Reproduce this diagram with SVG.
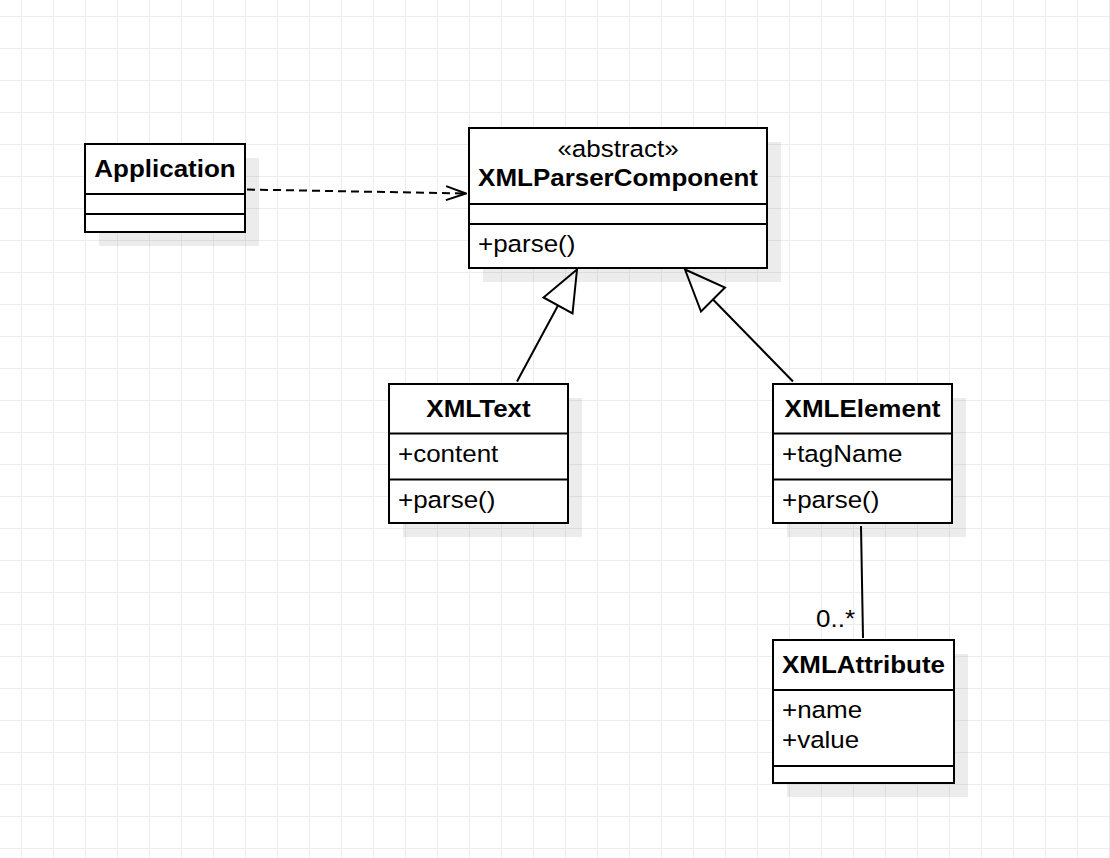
<svg xmlns="http://www.w3.org/2000/svg" width="1110" height="858" viewBox="0 0 1110 858">
  <style>
    .box { fill: #ffffff; stroke: #000000; stroke-width: 2; }
    .sep { stroke: #000000; stroke-width: 2; fill: none; }
    .shadow { fill: #000000; fill-opacity: 0.075; }
    .t { font-family: "Liberation Sans", Arial, sans-serif; font-size: 24.5px; fill: #000000; }
    .b { font-weight: bold; }
    .edge { stroke: #000000; stroke-width: 2; fill: none; }
    .dash { stroke-dasharray: 8 5; }
  </style>
  <defs>
    <pattern id="grid" x="21" y="16" width="32" height="32" patternUnits="userSpaceOnUse">
      <path d="M0.5 0 V32 M0 0.5 H32" stroke="#ededed" stroke-width="1" fill="none"/>
    </pattern>
    <marker id="open" viewBox="0 0 22 16" refX="21" refY="8" markerWidth="22" markerHeight="16" markerUnits="userSpaceOnUse" orient="auto">
      <path d="M1 1 L21 8 L1 15" fill="none" stroke="#000" stroke-width="2"/>
    </marker>
  </defs>
  <rect width="1110" height="858" fill="#ffffff"/>
  <rect width="1110" height="858" fill="url(#grid)"/>

  <g id="connectors">
    <path class="edge dash" d="M247 189.5 L466 193.5" marker-end="url(#open)"/>
    <path class="edge" d="M517 381.5 L558 305.5"/>
    <polygon class="edge" points="577,269.5 543.5,297.5 572.5,313.5" style="fill:#fff"/>
    <path class="edge" d="M793 381.5 L713 299.5"/>
    <polygon class="edge" points="685,269.5 725,287.5 701,311.5" style="fill:#fff"/>
    <path class="edge" d="M861 526 L863 638"/>
    <text class="t" text-anchor="end" transform="translate(855 627) scale(1.06 1)">0..*</text>
  </g>

  <g id="Application">
    <rect class="shadow" x="99" y="158" width="160" height="88"/>
    <rect class="box" x="85" y="144" width="160" height="88"/>
    <path class="sep" d="M85 194 H245 M85 214 H245"/>
    <text class="t b" text-anchor="middle" transform="translate(165 177) scale(1.06 1)">Application</text>
  </g>

  <g id="XMLParserComponent">
    <rect class="shadow" x="483" y="142" width="298" height="140"/>
    <rect class="box" x="469" y="128" width="298" height="140"/>
    <path class="sep" d="M469 204 H767 M469 224 H767"/>
    <text class="t" text-anchor="middle" transform="translate(618 157) scale(1.06 1)">«abstract»</text>
    <text class="t b" text-anchor="middle" transform="translate(618 186) scale(1.06 1)">XMLParserComponent</text>
    <text class="t" transform="translate(478 252) scale(1.06 1)">+parse()</text>
  </g>

  <g id="XMLText">
    <rect class="shadow" x="403" y="398" width="179" height="139"/>
    <rect class="box" x="389" y="384" width="179" height="139"/>
    <path class="sep" d="M389 433.5 H568 M389 479.5 H568"/>
    <text class="t b" text-anchor="middle" transform="translate(478.5 417) scale(1.06 1)">XMLText</text>
    <text class="t" transform="translate(398 462) scale(1.06 1)">+content</text>
    <text class="t" transform="translate(398 508) scale(1.06 1)">+parse()</text>
  </g>

  <g id="XMLElement">
    <rect class="shadow" x="787" y="398" width="179" height="139"/>
    <rect class="box" x="773" y="384" width="179" height="139"/>
    <path class="sep" d="M773 433.5 H952 M773 479.5 H952"/>
    <text class="t b" text-anchor="middle" transform="translate(862.5 417) scale(1.06 1)">XMLElement</text>
    <text class="t" transform="translate(782 462) scale(1.06 1)">+tagName</text>
    <text class="t" transform="translate(782 508) scale(1.06 1)">+parse()</text>
  </g>

  <g id="XMLAttribute">
    <rect class="shadow" x="787" y="654" width="181" height="143"/>
    <rect class="box" x="773" y="640" width="181" height="143"/>
    <path class="sep" d="M773 690 H954 M773 766 H954"/>
    <text class="t b" text-anchor="middle" transform="translate(863.5 673) scale(1.06 1)">XMLAttribute</text>
    <text class="t" transform="translate(782 718) scale(1.06 1)">+name</text>
    <text class="t" transform="translate(782 748) scale(1.06 1)">+value</text>
  </g>
</svg>
